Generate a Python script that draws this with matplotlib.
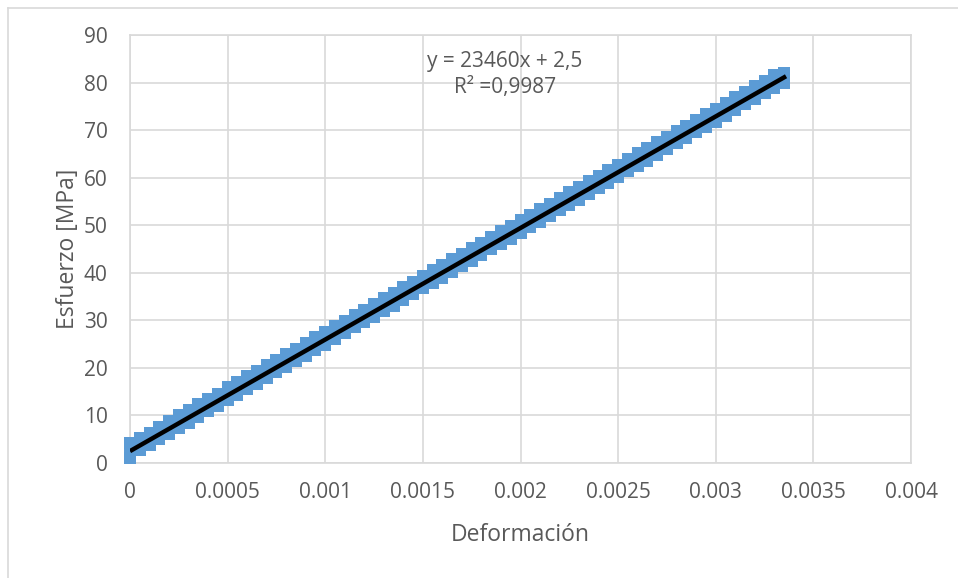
import matplotlib
matplotlib.use("Agg")
import matplotlib.pyplot as plt
from matplotlib.lines import Line2D

# ---- data ----
strain = [k * 0.00005 for k in range(68)]
stress_low = [1.0, 2.7, 3.8, 5.0, 6.2, 7.3, 8.5, 9.7, 10.9, 12.0,
              13.2, 14.4, 15.6, 16.7, 17.9, 19.1, 20.2, 21.4, 22.6, 23.8,
              24.9, 26.1, 27.3, 28.5, 29.6, 30.8, 32.0, 33.1, 34.3, 35.5,
              36.7, 37.8, 39.0, 40.2, 41.4, 42.5, 43.7, 44.9, 46.0, 47.2,
              48.4, 49.6, 50.7, 51.9, 53.1, 54.3, 55.4, 56.6, 57.8, 58.9,
              60.1, 61.3, 62.5, 63.6, 64.8, 66.0, 67.2, 68.3, 69.5, 70.7,
              71.8, 73.0, 74.2, 75.4, 76.5, 77.7, 78.9, 80.0]
stress_high = [4.2, 5.3, 6.4, 7.6, 8.8, 10.0, 11.1, 12.4, 13.5, 14.6,
               15.9, 17.0, 18.2, 19.3, 20.6, 21.7, 22.9, 24.0, 25.3, 26.4,
               27.5, 28.8, 29.9, 31.1, 32.2, 33.5, 34.6, 35.8, 37.0, 38.1,
               39.3, 40.5, 41.6, 42.9, 44.0, 45.2, 46.3, 47.5, 48.7, 49.8,
               51.1, 52.2, 53.4, 54.5, 55.8, 56.9, 58.1, 59.2, 60.4, 61.6,
               62.7, 64.0, 65.1, 66.3, 67.4, 68.6, 69.8, 70.9, 72.2, 73.3,
               74.5, 75.6, 76.9, 78.0, 79.2, 80.3, 81.5, 82.0]
fit_slope = 23460
fit_intercept = 2.5
fit_x = [0.0, 0.00336]
eq_text = "y = 23460x + 2,5\nR² =0,9987"

x_ticks = [0, 0.0005, 0.001, 0.0015, 0.002, 0.0025, 0.003, 0.0035, 0.004]
x_labels = ["0", "0.0005", "0.001", "0.0015", "0.002", "0.0025", "0.003", "0.0035", "0.004"]
y_ticks = [0, 10, 20, 30, 40, 50, 60, 70, 80, 90]

# ---- style ----
plt.rcParams['font.family'] = ['Open Sans', 'DejaVu Sans']
txt = '#595959'
grid = '#D9D9D9'
blue = '#5B9BD5'

fig = plt.figure(figsize=(9.58, 5.78), dpi=100)
ax = fig.add_axes([130/958, 1-463/578, (911-130)/958, (463-35)/578])

ax.set_xlim(0, 0.004)
ax.set_ylim(0, 90)
ax.set_xticks(x_ticks)
ax.set_xticklabels(x_labels)
ax.set_yticks(y_ticks)
ax.grid(True, color=grid, linewidth=1.2)
ax.set_axisbelow(True)
for s in ax.spines.values():
    s.set_color(grid)
    s.set_linewidth(1.2)
ax.tick_params(length=0, labelsize=15, labelcolor=txt)
ax.tick_params(axis='y', pad=16)
ax.tick_params(axis='x', pad=14)

mw = 8.6
ax.vlines(strain, stress_low, stress_high, colors=blue, linewidth=mw,
          capstyle='butt', clip_on=False, zorder=3)
ax.plot(strain, stress_low, 's', color=blue, ms=mw, mew=0, clip_on=False, zorder=3)
ax.plot(strain, stress_high, 's', color=blue, ms=mw, mew=0, clip_on=False, zorder=3)

fit_y = [fit_slope * v + fit_intercept for v in fit_x]
ax.plot(fit_x, fit_y, color='black', linewidth=3.2, solid_capstyle='butt', zorder=4)

ax.text(0.00192, 86.6, eq_text, ha='center', va='top', fontsize=15,
        color=txt, linespacing=1.3, zorder=5)

ax.set_xlabel("Deformación", fontsize=16.5, color=txt, labelpad=14)
ax.set_ylabel("Esfuerzo [MPa]", fontsize=16.5, color=txt, labelpad=3)

# outer chart border
fig.add_artist(Line2D([8/958, 8/958], [0, 1-8/578], color=grid, linewidth=1.2))
fig.add_artist(Line2D([8/958, 1], [1-8/578, 1-8/578], color=grid, linewidth=1.2))

fig.savefig("out.png", dpi=100)
